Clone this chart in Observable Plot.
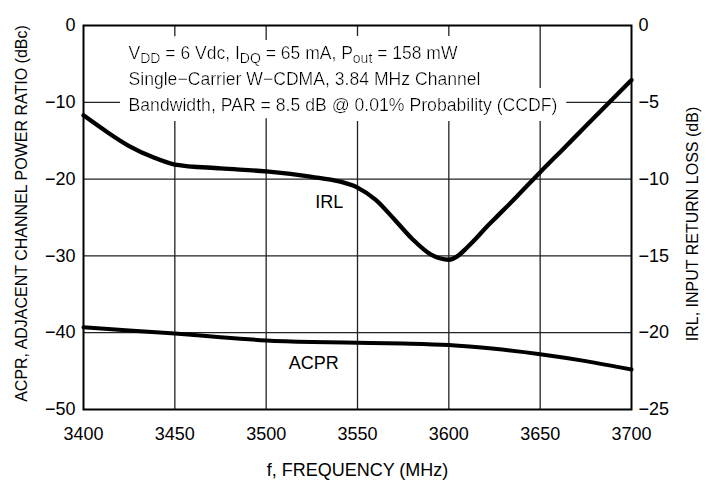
<!DOCTYPE html>
<html><head><meta charset="utf-8">
<script src="https://cdn.jsdelivr.net/npm/d3@7"></script>
<script src="https://cdn.jsdelivr.net/npm/@observablehq/plot@0.6"></script>
<style>
body{margin:0;background:#fff;}
#chart svg{display:block;}
</style></head><body><div id="chart"></div>
<script>
// ---- data ----
const freqTicks = [3400, 3450, 3500, 3550, 3600, 3650, 3700];
const acprTicks = [-50, -40, -30, -20, -10, 0];

const irlFreq = [3400, 3412.5, 3425, 3437.5, 3450, 3475, 3500, 3525, 3540, 3550, 3560, 3570, 3580, 3590, 3595, 3600, 3605, 3610, 3615, 3620, 3625, 3637.5, 3650, 3662.5, 3675, 3687.5, 3700];
const irlDb   = [-5.85, -6.9, -7.85, -8.55, -9.05, -9.3, -9.5, -9.85, -10.15, -10.55, -11.35, -12.6, -13.9, -14.9, -15.15, -15.25, -15.0, -14.45, -13.85, -13.2, -12.6, -11.1, -9.55, -8.05, -6.55, -5.05, -3.55];

const acprFreq = [3400, 3425, 3450, 3475, 3500, 3525, 3550, 3575, 3600, 3625, 3650, 3675, 3700];
const acprDbc  = [-39.3, -39.7, -40.1, -40.6, -41.0, -41.2, -41.3, -41.4, -41.6, -42.1, -42.8, -43.7, -44.8];

const noteLines = [
  "V_{DD} = 6 Vdc, I_{DQ} = 65 mA, P_{out} = 158 mW",
  "Single\u2212Carrier W\u2212CDMA, 3.84 MHz Channel",
  "Bandwidth, PAR = 8.5 dB @ 0.01% Probability (CCDF)"
];
const seriesLabels = [
  {name: "IRL", f: 3534.6, v: -23.0},
  {name: "ACPR", f: 3526, v: -44.0}
];
const xLabel = "f, FREQUENCY (MHz)";
const yLeftLabel = "ACPR, ADJACENT CHANNEL POWER RATIO (dBc)";
const yRightLabel = "IRL, INPUT RETURN LOSS (dB)";

// ---- tables ----
const irl = irlFreq.map((f, i) => ({f, v: irlDb[i] * 2}));   // right axis (dB) = left axis / 2
const acpr = acprFreq.map((f, i) => ({f, v: acprDbc[i]}));

const FONT = "'Liberation Sans', Arial, Helvetica, sans-serif";
const FS = 18;
const minus = s => String(s).replace("-", "\u2212");

const noteDy = [28, 54, 79.5];
const noteMarks = noteLines.map((line, i) => Plot.text([line], {
  frameAnchor: "top-left", dx: 45, dy: noteDy[i], lineAnchor: "middle", textAnchor: "start",
  fill: "#000", fontSize: FS
}));

const chart = Plot.plot({
  width: 706, height: 486,
  marginLeft: 83, marginRight: 75, marginTop: 25, marginBottom: 77,
  style: {fontFamily: FONT, fontSize: FS + "px", color: "#000", background: "#fff"},
  x: {domain: [3400, 3700]},
  y: {domain: [-50, 0]},
  marks: [
    Plot.gridX(freqTicks.slice(1, -1), {stroke: "#222", strokeOpacity: 1, strokeWidth: 1.3}),
    Plot.gridY(acprTicks.slice(1, -1), {stroke: "#222", strokeOpacity: 1, strokeWidth: 1.3}),
    ...noteMarks,
    Plot.line(acpr, {x: "f", y: "v", stroke: "#000", strokeWidth: 4, curve: "monotone-x"}),
    Plot.line(irl, {x: "f", y: "v", stroke: "#000", strokeWidth: 4.3, curve: "monotone-x"}),
    Plot.text(seriesLabels, {x: "f", y: "v", text: "name", fill: "#000", fontSize: FS}),
    Plot.frame({stroke: "#000", strokeWidth: 2}),
    Plot.axisX(freqTicks, {anchor: "bottom", tickSize: 0, tickPadding: 18, label: null, tickFormat: d => String(d), fontSize: FS}),
    Plot.axisY(acprTicks, {anchor: "left", tickSize: 0, tickPadding: 8, label: null, tickFormat: d => minus(d), fontSize: FS}),
    Plot.axisY(acprTicks, {anchor: "right", tickSize: 0, tickPadding: 7, label: null, tickFormat: d => minus(d / 2), fontSize: FS}),
    Plot.text([xLabel], {frameAnchor: "bottom", dy: 61, lineAnchor: "middle", fill: "#000", fontSize: FS}),
    Plot.text([yLeftLabel], {frameAnchor: "left", dx: -62, dy: -4, rotate: -90, textAnchor: "middle", lineAnchor: "middle", fill: "#000", fontSize: 16}),
    Plot.text([yRightLabel], {frameAnchor: "right", dx: 61.5, dy: 6.5, rotate: -90, textAnchor: "middle", lineAnchor: "middle", fill: "#000", fontSize: 16})
  ]
});

// white background behind the note block (dilated glyph mask of all three lines together)
const svgNS = "http://www.w3.org/2000/svg";
const defs = document.createElementNS(svgNS, "defs");
defs.innerHTML = `<filter id="noteBg" filterUnits="userSpaceOnUse" x="-2000" y="-2000" width="5000" height="5000">
  <feMorphology in="SourceAlpha" operator="dilate" radius="10 10" result="d"/>
  <feFlood flood-color="#fff" result="w"/>
  <feComposite in="w" in2="d" operator="in" result="bg"/>
  <feMerge><feMergeNode in="bg"/><feMergeNode in="SourceGraphic"/></feMerge>
</filter>`;
chart.insertBefore(defs, chart.firstChild);

const noteWidths = new Map([[noteLines[0], 329], [noteLines[1], 352], [noteLines[2], 429]]);
const noteGroups = [];
d3.select(chart).selectAll("text").each(function() {
  const w = noteWidths.get(this.textContent);
  if (w) {
    this.setAttribute("textLength", w);
    this.setAttribute("lengthAdjust", "spacingAndGlyphs");
    if (!noteGroups.includes(this.parentNode)) noteGroups.push(this.parentNode);
  }
});
if (noteGroups.length) {
  const wrap = document.createElementNS(svgNS, "g");
  wrap.setAttribute("filter", "url(#noteBg)");
  noteGroups[0].parentNode.insertBefore(wrap, noteGroups[0]);
  noteGroups.forEach(g => wrap.appendChild(g));
}

// subscripts: rewrite "X_{sub}" segments as real subscript tspans
d3.select(chart).selectAll("text").each(function() {
  const el = this;
  const s = el.textContent;
  if (!s.includes("_{")) return;
  while (el.firstChild) el.removeChild(el.firstChild);
  const re = /_\{([^}]*)\}/g;
  let last = 0, m, afterSub = false;
  const add = (t, dy, small) => {
    const ts = document.createElementNS(svgNS, "tspan");
    ts.textContent = t;
    if (dy) ts.setAttribute("dy", dy);
    if (small) ts.setAttribute("font-size", "0.8em");
    el.appendChild(ts);
  };
  while ((m = re.exec(s))) {
    add(s.slice(last, m.index), afterSub ? "-4" : null, false);
    add(m[1], "4", true);
    afterSub = true;
    last = re.lastIndex;
  }
  add(s.slice(last), afterSub ? "-4" : null, false);
});

document.getElementById("chart").appendChild(chart);
</script>
</body></html>
